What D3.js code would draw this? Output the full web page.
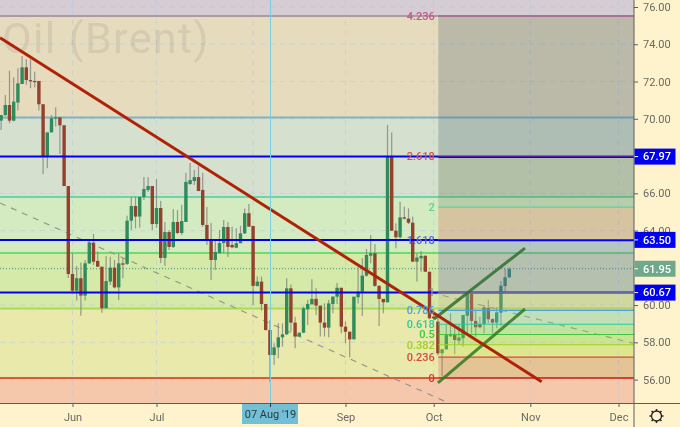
<!DOCTYPE html>
<html><head><meta charset="utf-8">
<script src="https://cdn.jsdelivr.net/npm/d3@7/dist/d3.min.js"></script>
<style>html,body{margin:0;padding:0;background:#fff3ce}svg{display:block;filter:blur(0.35px)}text{font-family:Roboto,"Noto Sans",sans-serif}</style>
</head><body><svg id="c" width="680" height="427"></svg>
<script>
// ---- data: candles are indexed by trading day, day 0 = 3 Jun 2019
const firstDay = -17;
const opens = [69.90,70.20,70.74,69.90,70.87,71.87,72.76,72.08,72.03,72.03,
70.78,67.97,69.27,70.01,70.08,69.65,66.39,61.67,60.77,61.44,
60.51,62.24,63.35,62.37,62.06,59.83,61.26,62.01,60.95,62.24,
62.21,64.53,65.32,64.75,65.80,66.18,66.39,64.35,65.21,62.53,
63.92,63.12,64.46,63.87,64.46,66.50,66.66,66.87,66.18,64.30,
63.49,62.42,62.80,63.33,64.19,63.23,63.08,63.32,63.85,64.93,
64.25,61.03,61.26,60.06,58.66,57.32,57.73,58.27,58.43,60.90,
59.06,58.31,58.52,59.77,60.04,60.33,59.97,59.06,58.79,60.06,
60.45,60.93,58.84,58.57,58.16,60.42,60.72,61.58,62.65,62.78,
61.03,60.33,60.15,68.00,63.99,63.64,64.71,64.64,64.42,62.33,
62.51,62.64,61.79,59.38,59.11,57.41,57.63,58.36,58.39,58.09,
58.22,59.43,60.60,59.15,58.99,58.99,59.83,59.25,59.06,59.59,61.02,61.49];
const closes = [70.20,70.74,69.90,70.92,71.90,72.76,72.08,72.01,71.99,70.78,
67.97,69.27,70.03,70.08,69.65,66.39,61.67,60.77,61.44,60.51,
62.24,63.35,62.33,62.06,59.83,61.29,62.01,60.95,62.24,62.17,
64.53,65.32,64.75,65.80,66.23,66.39,64.35,65.21,62.53,63.92,
63.12,64.46,63.87,64.51,66.61,66.71,66.87,66.12,64.30,63.49,
62.42,62.85,63.33,64.19,63.12,63.10,63.32,63.85,64.93,64.21,
61.03,61.26,60.06,58.66,57.32,57.73,58.27,58.43,60.90,59.06,
58.31,58.52,59.83,60.06,60.33,59.97,59.06,58.79,60.09,60.45,
60.93,58.84,58.57,58.16,60.45,60.72,61.58,62.69,62.78,61.03,
60.33,60.15,68.00,63.99,63.64,64.71,64.64,64.42,62.33,62.55,
62.64,61.79,59.29,59.29,57.41,57.63,58.39,58.39,58.13,58.25,
59.47,60.60,59.15,58.81,58.81,59.88,59.24,59.06,59.61,61.04,61.49,61.94];
const highs = [70.20,71.28,72.58,72.23,72.71,73.37,73.19,73.19,72.53,72.03,
70.78,69.27,70.20,70.62,70.08,69.65,66.39,62.78,62.10,62.28,
62.42,63.53,63.82,62.87,62.06,62.63,62.60,62.42,62.78,62.51,
64.80,65.82,65.82,65.82,66.87,66.87,66.39,66.77,65.59,64.46,
64.03,65.16,65.10,65.37,67.09,67.63,67.25,67.47,67.09,65.26,
64.41,63.49,64.03,64.57,64.46,64.21,64.12,64.25,65.19,65.43,
64.25,61.53,61.53,60.06,59.20,57.95,59.02,59.02,61.44,61.11,
59.38,58.52,59.92,60.27,61.38,60.90,59.97,60.09,60.27,60.49,
61.20,60.93,59.11,58.57,60.45,62.03,62.51,63.01,63.76,63.28,
61.08,60.33,69.67,69.27,64.39,65.55,65.28,65.19,64.75,62.78,
62.90,62.69,61.79,59.56,59.29,57.63,58.97,59.56,58.84,58.93,
59.47,60.60,60.64,59.74,59.38,60.00,60.27,59.29,59.88,61.29,61.97,62.03];
const lows = [69.40,70.15,69.76,69.85,70.44,71.87,71.82,71.64,71.69,70.44,
67.04,67.34,69.27,69.58,68.11,66.39,61.45,60.63,60.24,59.43,
60.24,62.21,62.15,62.06,59.59,59.83,61.08,60.90,60.27,61.44,
62.15,64.03,64.12,64.17,65.64,66.07,64.03,64.14,62.26,62.10,
62.96,63.06,63.82,63.76,64.46,66.45,66.45,66.12,64.19,63.22,
61.35,61.88,62.74,62.80,62.58,63.05,63.05,63.32,63.82,64.21,
60.01,60.99,59.70,58.63,55.89,56.79,57.14,57.77,58.40,58.57,
57.68,58.31,58.49,58.93,60.04,59.47,58.31,58.31,58.27,59.56,
60.06,58.49,57.95,57.20,58.16,60.09,59.42,61.53,62.24,60.99,
58.88,59.56,60.15,63.99,63.05,63.58,64.60,64.35,62.33,61.26,
61.79,61.79,59.24,59.20,57.30,56.16,57.59,58.30,57.36,57.89,
57.77,58.48,58.48,58.30,58.75,58.48,59.02,58.48,58.75,58.88,60.67,61.45];

const priceTicks = [56,58,60,62,64,66,68,70,72,74,76];
const hiddenPriceTicks = [62,68];
const timeTickDays = [0,20,43,65,86,109,130];
const timeTickLabels = ["Jun","Jul","","Sep","Oct","Nov","Dec"];
const crossDay = 47.15, crossLabel = "07 Aug '19";

const bluePrices = [67.97,63.50,60.67];
const lastPrice = 61.95;

// wide (left) Fibonacci tool
const wideLevels = [75.52,70.07,65.80,62.80,59.82,56.09];
const wideLineColors = ["#a89ca2","#7fb2c8","#6fd2aa","#6fda70","#a9da5c","#e0583a"];
const wideBandColors = ["#d6ccd3","#e6dbbd","#d6e0cf","#d4eac0","#d5e9a8","#e9e9ac","#f5c8ac"];

// right Fibonacci tool
const fibStartDay = 87.1;
const fibValues = ["4.236","2.618","2","1.618","1","0.786","0.618","0.5","0.382","0.236","0"];
const fibPrices = [75.52,68.00,65.26,63.49,60.70,59.72,58.97,58.42,57.87,57.21,56.09];
const fibColors = ["#c8558f","#d8504a","#5dd0a2","#6060dd","#8f8f9a","#4aa0e0","#2acb9a","#3cc840","#a0d020","#d84a3a","#d03535"];
const fibBands = ["rgba(70,100,110,.27)","rgba(90,110,70,.28)","rgba(120,143,113,.3)","rgba(220,107,87,.3)","rgba(110,113,193,.3)","rgba(110,100,190,.3)","rgba(193,180,140,.3)","rgba(107,203,203,.3)","rgba(107,213,127,.3)","rgba(140,217,77,.3)","rgba(193,230,77,.3)","rgba(220,110,97,.3)"];
const fibBandTops = [75.52,68.00,65.80,65.26,63.49,62.80,60.70,59.72,58.97,58.42,57.87,57.21];
const fibBandBottoms = [68.00,65.80,65.26,63.49,62.80,60.70,59.72,58.97,58.42,57.87,57.21,56.09];
const fibBandIdx = [0,1,2,3,4,5,6,7,8,9,10,11];

// drawn lines: [day, price, day, price]
const redTrend = [-17.26,74.35,111.7,55.89];
const channelUpper = [86.07,59.25,107.74,63.06];
const channelLower = [87.0,55.82,107.74,59.79];
const dashedLines = [[-17.26,65.48,90.0,54.7],[85.4,60.67,133.5,57.95]];

// ---- layout
const W=680,H=427,PR=634,PB=403;
const svg=d3.select("#c");
const x=d3.scaleLinear().domain([0,130]).range([72.5,72.5+130*4.2]);
const y=d3.scaleLinear().domain([76,56]).range([7,379.6]);
const days=d3.range(opens.length).map(i=>i+firstDay);
svg.append("defs").append("clipPath").attr("id","plot").append("rect").attr("width",PR).attr("height",PB);

svg.append("rect").attr("width",W).attr("height",H).attr("fill","#fff3ce");
const plot=svg.append("g").attr("clip-path","url(#plot)");

// wide bands
const bandEdges=[76.5,...wideLevels,55];
plot.selectAll(".band").data(wideBandColors).join("rect").attr("class","band")
 .attr("x",0).attr("width",PR)
 .attr("y",(d,i)=>i==0?0:y(bandEdges[i]))
 .attr("height",(d,i)=>(i==wideBandColors.length-1?PB:y(bandEdges[i+1]))-(i==0?0:y(bandEdges[i])))
 .attr("fill",d=>d);

// grid
plot.selectAll(".gh").data(priceTicks).join("line").attr("x1",0).attr("x2",PR)
 .attr("y1",y).attr("y2",y).attr("stroke","#b9c6da").attr("stroke-opacity",.55).attr("stroke-dasharray","5 5");
plot.selectAll(".gv").data(timeTickDays).join("line").attr("y1",0).attr("y2",PB)
 .attr("x1",d=>x(d)).attr("x2",d=>x(d)).attr("stroke","#b9c6da").attr("stroke-opacity",.55).attr("stroke-dasharray","5 5");

// watermark
plot.append("text").attr("x",2).attr("y",53).text("Oil (Brent)")
 .attr("font-size",43).attr("letter-spacing",1.4).attr("fill","#7a7a70").attr("fill-opacity",.17);

// wide level lines
plot.selectAll(".wl").data(wideLevels).join("line").attr("x1",0).attr("x2",PR)
 .attr("y1",y).attr("y2",y).attr("stroke",(d,i)=>wideLineColors[i]).attr("stroke-width",2);

// dashed
plot.selectAll(".dl").data(dashedLines).join("line")
 .attr("x1",d=>x(d[0])).attr("y1",d=>y(d[1])).attr("x2",d=>x(d[2])).attr("y2",d=>y(d[3]))
 .attr("stroke","#92928a").attr("stroke-width",1.1).attr("stroke-dasharray","6 6");

// last price dotted
plot.append("line").attr("x1",0).attr("x2",PR).attr("y1",y(lastPrice)).attr("y2",y(lastPrice))
 .attr("stroke","#3a9a7a").attr("stroke-dasharray","1 2");

// candles
const up=i=>closes[i]>=opens[i];
const cg=plot.append("g");
cg.selectAll(".w").data(days).join("line")
 .attr("x1",d=>x(d)).attr("x2",d=>x(d))
 .attr("y1",(d,i)=>y(highs[i])).attr("y2",(d,i)=>y(lows[i]))
 .attr("stroke","#7f8580").attr("stroke-width",1.2).attr("stroke-opacity",.8);
cg.selectAll(".b").data(days).join("rect")
 .attr("x",d=>x(d)-1.7).attr("width",3.4)
 .attr("y",(d,i)=>y(Math.max(opens[i],closes[i])))
 .attr("height",(d,i)=>Math.max(1.2,Math.abs(y(opens[i])-y(closes[i]))))
 .attr("fill",(d,i)=>up(i)?"#2f8a5c":"#93422e");

// blue lines
plot.selectAll(".bl").data(bluePrices).join("line").attr("x1",0).attr("x2",PR)
 .attr("y1",y).attr("y2",y).attr("stroke","#0000ee").attr("stroke-width",2);

// fib bands on top of candles
const fibX=x(fibStartDay);
plot.selectAll(".fb").data(fibBandIdx).join("rect")
 .attr("x",fibX).attr("width",PR-fibX)
 .attr("y",i=>y(fibBandTops[i])).attr("height",i=>y(fibBandBottoms[i])-y(fibBandTops[i]))
 .attr("fill",i=>fibBands[i]);
plot.selectAll(".fl").data(fibPrices).join("line").attr("x1",fibX).attr("x2",PR)
 .attr("y1",y).attr("y2",y).attr("stroke",(d,i)=>fibColors[i]).attr("stroke-width",1.2)
 .attr("stroke-opacity",d=>d===60.70?0:1);
// blue lines stay visible over the tool
plot.selectAll(".bl2").data(bluePrices).join("line").attr("x1",fibX).attr("x2",PR)
 .attr("y1",(d,i)=>y(d)+(i==2?0:.6)).attr("y2",(d,i)=>y(d)+(i==2?0:.6))
 .attr("stroke",(d,i)=>i==2?"#6868a4":"#0000ee").attr("stroke-width",(d,i)=>i==2?2:1.4);

// trend lines
const seg=(g,a,c,w,o)=>g.append("line").attr("x1",x(a[0])).attr("y1",y(a[1])).attr("x2",x(a[2])).attr("y2",y(a[3]))
 .attr("stroke",c).attr("stroke-width",w).attr("stroke-opacity",o);
seg(plot,channelUpper,"#2f6f2f",3,.85);
seg(plot,channelLower,"#2f7a22",3,.85);
seg(plot,redTrend,"#b02208",3,1);

// fib labels
plot.selectAll(".ft").data(fibValues).join("text").attr("x",fibX-3.5).attr("y",(d,i)=>y(fibPrices[i])).attr("dy","0.35em")
 .attr("text-anchor","end").attr("font-size",11).attr("font-weight",500).attr("fill",(d,i)=>fibColors[i]).text(d=>d);

// crosshair
plot.append("line").attr("x1",x(crossDay)).attr("x2",x(crossDay)).attr("y1",0).attr("y2",PB)
 .attr("stroke","#78cfe2").attr("stroke-width",1);

// axes
const axisCol="#5c5c5c",txt="#6a6a62";
const ya=d3.axisRight(y).tickValues(priceTicks.filter(t=>!hiddenPriceTicks.includes(t))).tickSize(4).tickFormat(d3.format(".2f"));
const yg=svg.append("g").attr("transform",`translate(${PR},0)`).call(ya);
yg.select(".domain").remove();
yg.selectAll("line").attr("stroke",axisCol);
yg.selectAll("text").attr("x",9).attr("font-size",11).attr("fill",txt).attr("font-family","Roboto");
svg.append("line").attr("x1",PR).attr("x2",PR).attr("y1",0).attr("y2",H).attr("stroke",axisCol).attr("stroke-width",1);

const xa=d3.axisBottom(x).tickValues(timeTickDays).tickSize(4).tickFormat((d,i)=>timeTickLabels[i]);
const xg=svg.append("g").attr("transform",`translate(0,${PB})`).call(xa);
xg.select(".domain").remove();
xg.selectAll("line").attr("stroke",axisCol);
xg.selectAll("text").attr("font-size",11).attr("fill",txt).attr("font-family","Roboto").attr("y",10);
svg.append("line").attr("x1",0).attr("x2",W).attr("y1",PB+.5).attr("y2",PB+.5).attr("stroke",axisCol);

// crosshair time label
const cx=x(crossDay);
svg.append("rect").attr("x",cx-28.5).attr("y",PB+1).attr("width",56).attr("height",20).attr("fill","#72bfd6");
svg.append("text").attr("x",cx).attr("y",PB+15).attr("text-anchor","middle").attr("font-size",11).attr("fill","#2d3a40").text(crossLabel);
svg.append("line").attr("x1",cx).attr("x2",cx).attr("y1",PB).attr("y2",PB+4).attr("stroke","#333");

// price tags
const tags=[...bluePrices.slice(1).map(p=>({p,c:"#0000f0"})),{p:lastPrice,c:"#6fa98a"},{p:bluePrices[0],c:"#0000f0"}];
const tg=svg.selectAll(".tag").data(tags).join("g").attr("transform",d=>`translate(${PR},${y(d.p)})`);
tg.append("rect").attr("x",.5).attr("y",-8).attr("width",41).attr("height",16).attr("fill",d=>d.c);
tg.append("line").attr("x1",.5).attr("x2",4).attr("stroke","#fff");
tg.append("text").attr("x",9).attr("dy","0.35em").attr("font-size",11).attr("font-weight",500).attr("fill","#fff").text(d=>d3.format(".2f")(d.p));

// gear
const gear=svg.append("g").attr("transform","translate(656.5,416)");
gear.append("circle").attr("r",5).attr("fill","none").attr("stroke","#222").attr("stroke-width",1.3);
gear.selectAll("line").data(d3.range(8)).join("line")
 .attr("x1",d=>5*Math.cos(d*Math.PI/4)).attr("y1",d=>5*Math.sin(d*Math.PI/4))
 .attr("x2",d=>7*Math.cos(d*Math.PI/4)).attr("y2",d=>7*Math.sin(d*Math.PI/4))
 .attr("stroke","#222").attr("stroke-width",1.5);
</script></body></html>
